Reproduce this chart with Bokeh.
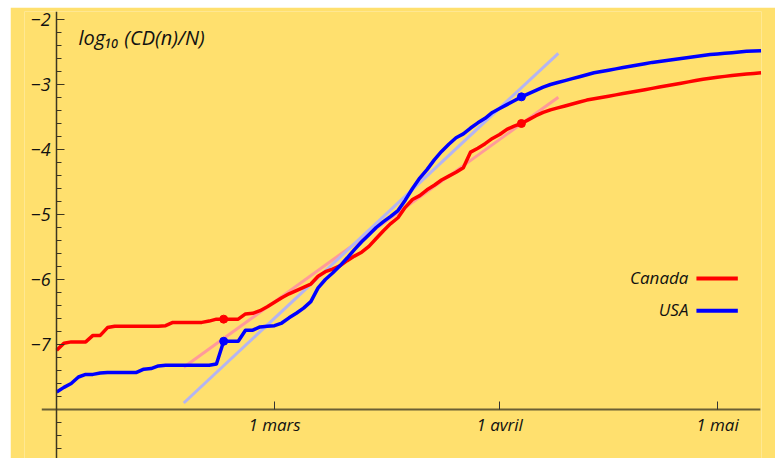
import pandas as pd
from bokeh.plotting import figure
from bokeh.models import LinearAxis, FixedTicker, Range1d, Label, BoxAnnotation
from bokeh.embed import file_html
from bokeh.resources import INLINE

# ---------------- data ----------------
start_date = "2020-01-31"
end_date = "2020-05-07"

canada = [
    -7.09, -6.98, -6.96, -6.96, -6.96, -6.86, -6.86, -6.74, -6.72, -6.72,
    -6.72, -6.72, -6.72, -6.72, -6.72, -6.71, -6.66, -6.66, -6.66, -6.66,
    -6.66, -6.64, -6.61, -6.61, -6.61, -6.61, -6.53, -6.52, -6.48, -6.42,
    -6.35, -6.28, -6.22, -6.17, -6.12, -6.07, -5.95, -5.88, -5.84, -5.79,
    -5.71, -5.64, -5.58, -5.49, -5.37, -5.25, -5.14, -5.05, -4.89, -4.77,
    -4.71, -4.62, -4.55, -4.47, -4.41, -4.35, -4.28, -4.04, -3.98, -3.91,
    -3.83, -3.77, -3.69, -3.64, -3.60, -3.54, -3.48, -3.43, -3.39, -3.36,
    -3.33, -3.30, -3.27, -3.24, -3.22, -3.20, -3.18, -3.16, -3.14, -3.12,
    -3.10, -3.08, -3.06, -3.04, -3.02, -3.00, -2.98, -2.96, -2.94, -2.92,
    -2.905, -2.89, -2.875, -2.86, -2.85, -2.84, -2.83, -2.82,
]

usa = [
    -7.73, -7.66, -7.60, -7.50, -7.46, -7.46, -7.44, -7.43, -7.43, -7.43,
    -7.43, -7.43, -7.38, -7.37, -7.33, -7.32, -7.32, -7.32, -7.32, -7.32,
    -7.32, -7.32, -7.30, -6.95, -6.95, -6.95, -6.78, -6.78, -6.73, -6.72,
    -6.71, -6.67, -6.59, -6.52, -6.44, -6.34, -6.13, -6.00, -5.90, -5.79,
    -5.67, -5.54, -5.42, -5.31, -5.20, -5.11, -5.03, -4.94, -4.78, -4.60,
    -4.44, -4.31, -4.16, -4.03, -3.92, -3.82, -3.76, -3.67, -3.59, -3.52,
    -3.43, -3.37, -3.31, -3.25, -3.19, -3.14, -3.09, -3.04, -3.00, -2.97,
    -2.94, -2.91, -2.88, -2.85, -2.82, -2.80, -2.78, -2.76, -2.74, -2.72,
    -2.70, -2.68, -2.66, -2.645, -2.63, -2.615, -2.60, -2.585, -2.57, -2.555,
    -2.54, -2.53, -2.52, -2.51, -2.50, -2.49, -2.485, -2.48,
]

# straight-line fits (end points)
fit_dates = ["2020-02-17 12:00", "2020-04-09 02:00"]
canada_fit = [-7.35, -3.195]
usa_fit = [-7.90, -2.52]

# marked dates (fit window)
marker_dates = ["2020-02-23", "2020-04-04"]

# axis ticks / labels
x_tick_dates = ["2020-03-01", "2020-04-01", "2020-05-01"]
x_tick_labels = ["1 mars", "1 avril", "1 mai"]
y_ticks = [-7, -6, -5, -4, -3, -2]
y_tick_labels = ["\u22127", "\u22126", "\u22125", "\u22124", "\u22123", "\u22122"]
y_minor_ticks = [-8.6, -8.4, -8.2, -7.8, -7.6, -7.4, -7.2, -6.8, -6.6, -6.4, -6.2,
                 -5.8, -5.6, -5.4, -5.2, -4.8, -4.6, -4.4, -4.2, -3.8, -3.6, -3.4,
                 -3.2, -2.8, -2.6, -2.4, -2.2]
x_axis_value = -8

title_text = "log\u2081\u2080 (CD(n)/N)"
series_names = ["Canada", "USA"]

# ---------------- conversion to day numbers ----------------
EPOCH = pd.Timestamp("2020-01-01")
def day(d):
    return (pd.Timestamp(d) - EPOCH) / pd.Timedelta(days=1)

dates = pd.date_range(start_date, end_date, freq="D")
x = [day(d) for d in dates]
fit_x = [day(d) for d in fit_dates]
marker_x = [day(d) for d in marker_dates]
marker_idx = [x.index(v) for v in marker_x]
x_ticks = [day(d) for d in x_tick_dates]

# ---------------- style ----------------
BG = "#FFE06E"
RED = "#FF0000"
BLUE = "#0000FF"
FONT = "Open Sans"
XAXIS_COL = "#6a5f34"
YAXIS_COL = "#3c3620"

X0, X1 = 25.57, 127.06
Y0, Y1 = -8.754, -1.877

p = figure(width=765, height=451, margin=(7, 0, 0, 10),
           output_backend="svg", toolbar_location=None,
           x_range=Range1d(X0, X1), y_range=Range1d(Y0, Y1),
           x_axis_type=None, y_axis_type=None,
           min_border_left=14, min_border_right=14, min_border_top=4, min_border_bottom=0,
           background_fill_color=BG, border_fill_color=BG, outline_line_color=None)

# fit lines
p.line(fit_x, canada_fit, line_color="#FF9A9A", line_width=3)
p.line(fit_x, usa_fit, line_color="#B4B4F2", line_width=3)

# data lines
p.line(x, canada, line_color=RED, line_width=3.5, line_join="round")
p.line(x, usa, line_color=BLUE, line_width=3.5, line_join="round")

# markers
p.scatter(marker_x, [canada[i] for i in marker_idx], size=8, color=RED)
p.scatter(marker_x, [usa[i] for i in marker_idx], size=8, color=BLUE)

# horizontal axis line (starts a little left of the vertical axis), 2px thick
p.add_layout(BoxAnnotation(left=x[0] - 2.05, right=126.9,
                           bottom=x_axis_value - 0.015, top=x_axis_value + 0.015,
                           fill_color=XAXIS_COL, fill_alpha=1.0, line_color=None,
                           level="underlay"))

# axes crossing inside the frame
xaxis = LinearAxis(fixed_location=x_axis_value,
                   ticker=FixedTicker(ticks=x_ticks, minor_ticks=[]),
                   major_label_overrides=dict(zip(x_ticks, x_tick_labels)),
                   axis_line_color=None,
                   major_tick_in=8, major_tick_out=0, major_tick_line_color="#333333",
                   minor_tick_in=0, minor_tick_out=0, minor_tick_line_color=None,
                   major_label_standoff=4,
                   major_label_text_font=FONT, major_label_text_font_style="italic",
                   major_label_text_font_size="17px", major_label_text_color="#111111")
p.add_layout(xaxis, "below")

yaxis = LinearAxis(fixed_location=x[0],
                   ticker=FixedTicker(ticks=y_ticks, minor_ticks=y_minor_ticks),
                   major_label_overrides=dict(zip(y_ticks, y_tick_labels)),
                   axis_line_color=YAXIS_COL, axis_line_width=1.5,
                   major_tick_in=8, major_tick_out=0, major_tick_line_color=YAXIS_COL,
                   minor_tick_in=5, minor_tick_out=0, minor_tick_line_color=YAXIS_COL,
                   major_label_standoff=6,
                   major_label_text_font=FONT, major_label_text_font_style="italic",
                   major_label_text_font_size="18px", major_label_text_color="#111111")
p.add_layout(yaxis, "left")

# title label
p.add_layout(Label(x=33.0, y=-2.27, text=title_text, text_font=FONT,
                   text_font_style="italic", text_font_size="20px",
                   text_baseline="middle", text_color="#111111"))

# legend (text then line sample)
leg_y = [-5.985, -6.48]
for name, col, yy in zip(series_names, [RED, BLUE], leg_y):
    p.add_layout(Label(x=117.0, y=yy + 0.02, text=name, text_font=FONT,
                       text_font_style="italic", text_font_size="17px",
                       text_align="right", text_baseline="middle", text_color="#111111"))
    p.add_layout(BoxAnnotation(left=118.1, right=123.8, bottom=yy - 0.03, top=yy + 0.03,
                               fill_color=col, fill_alpha=1.0, line_color=None))

open("out.html", "w").write(file_html(p, INLINE))
